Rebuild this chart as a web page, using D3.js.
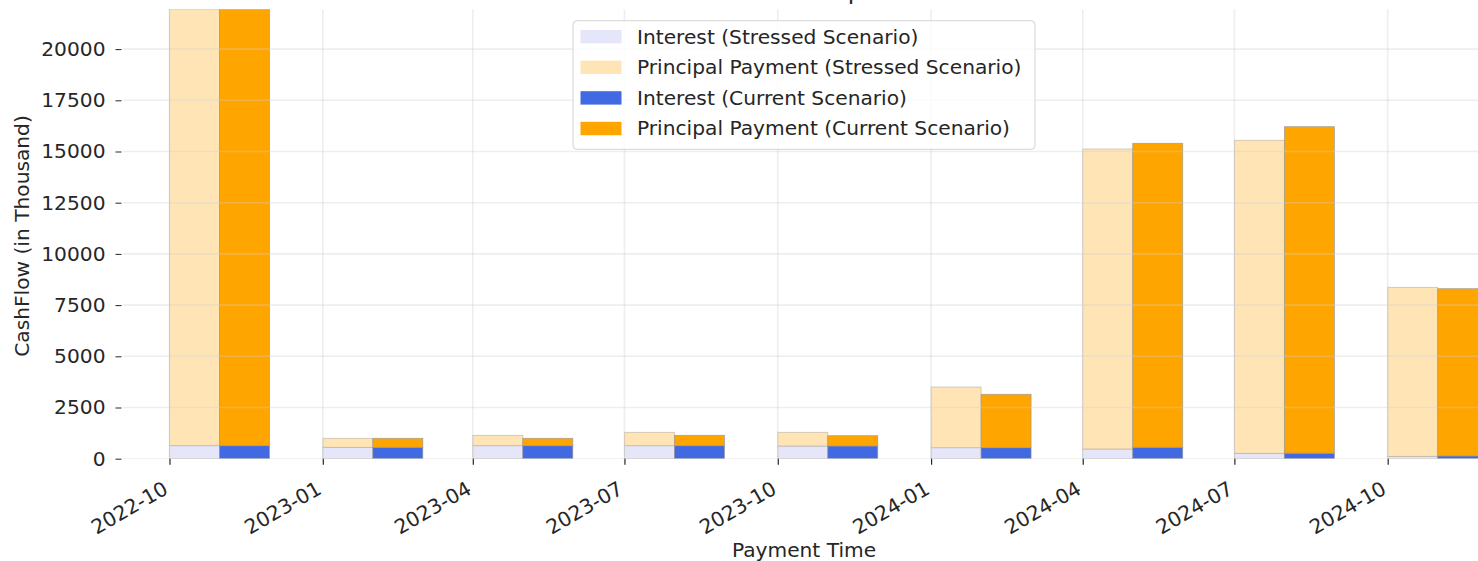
<!DOCTYPE html>
<html>
<head>
<meta charset="utf-8">
<script src="https://cdn.jsdelivr.net/npm/d3@7/dist/d3.min.js"></script>
<style>
  html, body { margin: 0; padding: 0; background: #fff; }
  svg { display: block; }
  text { font-family: "DejaVu Sans", sans-serif; fill: #262626; }
</style>
</head>
<body>
<svg id="chart" width="1478" height="561"></svg>
<script>
// ---- data (values in thousand) ----
const paymentDates = ["2022-10-01","2023-01-01","2023-04-01","2023-07-01","2023-10-01","2024-01-01","2024-04-01","2024-07-01","2024-10-01"];
const stressedInterest  = [635, 556, 635, 635, 620, 537, 474, 264, 117];
const stressedPrincipal = [21310, 440, 507, 654, 669, 2964, 14648, 15283, 8252];
const currentInterest   = [635, 556, 635, 635, 620, 537, 557, 270, 132];
const currentPrincipal  = [21310, 440, 361, 507, 503, 2607, 14843, 15941, 8169];
const yTickValues = [0, 2500, 5000, 7500, 10000, 12500, 15000, 17500, 20000];
const xTickLabels = ["2022-10","2023-01","2023-04","2023-07","2023-10","2024-01","2024-04","2024-07","2024-10"];
const legendLabels = ["Interest (Stressed Scenario)","Principal Payment (Stressed Scenario)","Interest (Current Scenario)","Principal Payment (Current Scenario)"];
const legendColors = ["#E6E6FA","#FFE4B5","#4169E1","#FFA500"];
const titleText = "CashFlow Comparison";

const parse = d3.utcParse("%Y-%m-%d");
const dates = paymentDates.map(parse);
const xTickDates = xTickLabels.map(s => parse(s + "-01"));

const svg = d3.select("#chart");
const plot = { left: 123, right: 1485, top: 9.3, bottom: 458.7 };
const FS = 20.2;

const x = d3.scaleUtc()
  .domain([parse("2022-10-01"), parse("2024-10-01")])
  .range([169.5, 1387.7]);
const y = d3.scaleLinear().domain([0, 20000]).range([458.7, 49.1]);

const barDays = 30;
const addDays = (d, n) => d3.utcDay.offset(d, n);

svg.append("defs").append("clipPath").attr("id", "clip")
  .append("rect").attr("x", plot.left).attr("y", plot.top)
  .attr("width", plot.right - plot.left).attr("height", plot.bottom - plot.top);

const g = svg.append("g").attr("clip-path", "url(#clip)");

// bars
function drawStack(offsetDays, interest, principal, cInt, cPri, edge) {
  const grp = g.append("g");
  dates.forEach((d, i) => {
    const x0 = x(addDays(d, offsetDays));
    const x1 = x(addDays(d, offsetDays + barDays));
    grp.append("rect")
      .attr("x", x0).attr("width", x1 - x0)
      .attr("y", y(interest[i])).attr("height", y(0) - y(interest[i]))
      .attr("fill", cInt).attr("stroke", edge).attr("stroke-width", 0.8);
    grp.append("rect")
      .attr("x", x0).attr("width", x1 - x0)
      .attr("y", y(interest[i] + principal[i])).attr("height", y(interest[i]) - y(interest[i] + principal[i]))
      .attr("fill", cPri).attr("stroke", edge).attr("stroke-width", 0.8);
  });
}
drawStack(0, stressedInterest, stressedPrincipal, legendColors[0], legendColors[1], "rgba(170,160,150,0.6)");
drawStack(barDays, currentInterest, currentPrincipal, legendColors[2], legendColors[3], "rgba(150,150,150,0.8)");

// grid on top, faint
const grid = svg.append("g").attr("clip-path", "url(#clip)")
  .attr("stroke", "#cfcfcf").attr("stroke-opacity", 0.36).attr("stroke-width", 1.6);
yTickValues.forEach(v => {
  grid.append("line").attr("x1", plot.left).attr("x2", plot.right).attr("y1", y(v)).attr("y2", y(v));
});
xTickDates.forEach(d => {
  grid.append("line").attr("x1", x(d)).attr("x2", x(d)).attr("y1", plot.top).attr("y2", plot.bottom);
});

// y axis (no spine)
const yAxis = d3.axisLeft(y).tickValues(yTickValues).tickSize(6).tickPadding(10).tickFormat(d3.format("d"));
const ya = svg.append("g").attr("transform", `translate(121.5,0)`).call(yAxis);
ya.select(".domain").remove();
ya.selectAll(".tick line").attr("stroke", "#262626").attr("stroke-width", 1);
ya.selectAll(".tick text").attr("font-size", FS).attr("font-family", "DejaVu Sans").attr("fill", "#262626");

// x axis (no spine)
const xAxis = d3.axisBottom(x).tickValues(xTickDates).tickSize(6).tickFormat((d, i) => xTickLabels[i]);
const xa = svg.append("g").attr("transform", `translate(0,${plot.bottom})`).call(xAxis);
xa.select(".domain").remove();
xa.selectAll(".tick line").attr("stroke", "#262626").attr("stroke-width", 1.2);
xa.selectAll(".tick text")
  .attr("font-size", FS).attr("font-family", "DejaVu Sans").attr("fill", "#262626")
  .attr("text-anchor", "end").attr("dy", null).attr("y", null)
  .attr("transform", "translate(-0.5,34) rotate(-30)");

// axis labels
svg.append("text").attr("x", 804).attr("y", 557).attr("text-anchor", "middle")
  .attr("font-size", FS).text("Payment Time");
svg.append("text").attr("transform", "translate(29,236) rotate(-90)").attr("text-anchor", "middle")
  .attr("font-size", FS).text("CashFlow (in Thousand)");

// title (mostly above the visible area, as in the reference)
svg.append("text").attr("x", 804).attr("y", -1).attr("text-anchor", "middle")
  .attr("font-size", 24).text(titleText);

// legend
const lg = svg.append("g").attr("transform", "translate(573,20.7)");
lg.append("rect").attr("width", 462).attr("height", 128.6).attr("rx", 4)
  .attr("fill", "rgba(255,255,255,0.8)").attr("stroke", "#d4d4d4").attr("stroke-width", 1);
legendLabels.forEach((lab, i) => {
  const cy = 16 + i * 30.6;
  lg.append("rect").attr("x", 7.5).attr("y", cy - 6.7).attr("width", 41).attr("height", 13.4)
    .attr("fill", legendColors[i]);
  lg.append("text").attr("x", 64).attr("y", cy + 7).attr("font-size", FS).text(lab);
});
</script>
</body>
</html>
